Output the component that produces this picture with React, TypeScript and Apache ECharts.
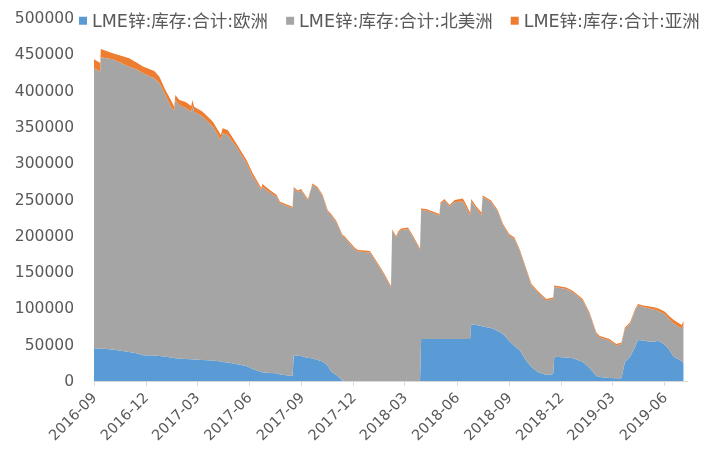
import React, { useEffect, useRef } from 'react';
import * as echarts from 'echarts';

const dates = [
  '2016-09-01', '2016-09-12', '2016-09-13', '2016-10-04', '2016-11-02', '2016-11-17', '2016-11-26', '2016-12-16', '2016-12-25', '2017-01-03',
  '2017-01-14', '2017-01-20', '2017-01-22', '2017-01-29', '2017-02-09', '2017-02-19', '2017-02-21', '2017-02-24', '2017-03-11', '2017-03-29',
  '2017-04-12', '2017-04-15', '2017-04-24', '2017-05-09', '2017-05-27', '2017-06-07', '2017-06-22', '2017-06-24', '2017-07-07', '2017-07-19',
  '2017-07-25', '2017-08-16', '2017-08-18', '2017-08-25', '2017-08-31', '2017-09-12', '2017-09-20', '2017-09-29', '2017-10-08', '2017-10-17',
  '2017-10-23', '2017-11-01', '2017-11-12', '2017-11-15', '2017-12-03', '2017-12-09', '2017-12-30', '2018-01-16', '2018-01-25', '2018-02-05',
  '2018-02-07', '2018-02-14', '2018-02-18', '2018-02-23', '2018-03-07', '2018-03-16', '2018-03-28', '2018-03-30', '2018-04-08', '2018-05-01',
  '2018-05-03', '2018-05-10', '2018-05-19', '2018-05-28', '2018-06-11', '2018-06-14', '2018-06-24', '2018-06-26', '2018-07-05', '2018-07-14',
  '2018-07-16', '2018-07-31', '2018-08-12', '2018-08-21', '2018-09-01', '2018-09-10', '2018-09-19', '2018-10-01', '2018-10-10', '2018-10-21',
  '2018-11-05', '2018-11-17', '2018-11-19', '2018-12-10', '2018-12-22', '2019-01-08', '2019-01-20', '2019-02-01', '2019-02-07', '2019-02-24',
  '2019-03-08', '2019-03-17', '2019-03-23', '2019-04-01', '2019-04-10', '2019-04-15', '2019-04-24', '2019-05-06', '2019-05-15', '2019-05-21',
  '2019-05-30', '2019-06-02', '2019-06-08', '2019-06-17', '2019-07-01', '2019-07-04',
];

const europe = [
  45000, 44800, 44600, 43400, 39900, 37900, 35400, 35000, 34400, 33700,
  32400, 31700, 31300, 31000, 30300, 29900, 29800, 29600, 28900, 28200,
  26900, 26200, 25500, 23400, 20700, 16500, 12400, 12000, 11000, 10600,
  9000, 6900, 34800, 34700, 34400, 31700, 31300, 28900, 26900, 21000,
  12800, 8300, 700, 0, 0, 0, 0, 0, 0, 0,
  0, 0, 0, 0, 0, 0, 0, 57900, 57900, 57900,
  57900, 57900, 57900, 57900, 57900, 57900, 57900, 78100, 77100, 75800,
  75100, 73000, 68900, 64700, 55100, 48200, 42700, 27500, 19300, 12400,
  8300, 9600, 33500, 32400, 31300, 26600, 17900, 6900, 5500, 4100,
  3700, 3700, 26200, 33500, 46800, 56500, 55800, 54100, 54400, 55500,
  51000, 49600, 44100, 33500, 27500, 24400,
];

const northAmerica = [
  386100, 381300, 401200, 399700, 393000, 390500, 388400, 382000, 375600, 362500,
  345500, 340600, 355800, 349200, 345700, 341000, 349700, 341300, 335100, 322000,
  305100, 315000, 313400, 299300, 279200, 264900, 250700, 255600, 248600, 243200,
  235800, 231000, 230300, 225600, 228000, 216900, 238700, 236200, 227300, 211800,
  215200, 210100, 198300, 197700, 181800, 178400, 177000, 156300, 144600, 128800,
  206600, 197700, 204500, 208000, 209400, 197700, 180400, 177700, 177000, 170100,
  185900, 190800, 182500, 188700, 189400, 185900, 170100, 169800, 160500, 152200,
  178400, 173600, 163900, 149400, 145300, 147400, 137100, 124700, 112300, 109500,
  102600, 103300, 96000, 94400, 90600, 84300, 74400, 57900, 54400, 51700,
  45200, 47200, 45500, 45000, 50300, 47500, 46100, 45700, 43700, 40900,
  42000, 42000, 42000, 45700, 44800, 52800,
];

const asia = [
  12000, 12000, 11400, 8300, 11600, 9200, 9400, 10100, 9100, 6900,
  9200, 5500, 6900, 6900, 8300, 7900, 7600, 6900, 6900, 6900,
  6900, 6900, 6900, 4700, 4500, 4700, 2800, 3700, 3400, 2300,
  2200, 2200, 2100, 2100, 2100, 2100, 2100, 2100, 2100, 2100,
  2100, 2100, 2100, 2100, 2100, 2100, 2100, 2100, 2100, 2100,
  2100, 2100, 2100, 2100, 2100, 2100, 2100, 2100, 2100, 2100,
  2100, 2100, 2100, 2800, 4100, 4100, 4100, 2800, 2800, 4100,
  2100, 2100, 2100, 2100, 2100, 2100, 2100, 2100, 2100, 2100,
  2100, 2100, 2100, 2100, 2100, 2100, 2100, 2100, 2100, 2100,
  2100, 2100, 2100, 2100, 2100, 2100, 2100, 2800, 3200, 3400,
  3400, 3400, 4100, 4800, 4800, 5500,
];

const seriesNames = ['LME锌:库存:合计:欧洲', 'LME锌:库存:合计:北美洲', 'LME锌:库存:合计:亚洲'];
const seriesColors = ['#5B9BD5', '#A5A5A5', '#ED7D31'];
const tickLabels = [
  '2016-09', '2016-12', '2017-03', '2017-06', '2017-09', '2017-12',
  '2018-03', '2018-06', '2018-09', '2018-12', '2019-03', '2019-06',
];
const axisStart = '2016-09-01';
const axisEnd = '2019-07-12';
const yMin = 0;
const yMax = 500000;
const yStep = 50000;

// Parse 'yyyy-MM-dd' to a UTC timestamp
const toTs = (s: string) => {
  const [y, m, d] = s.split('-').map(Number);
  return Date.UTC(y, m - 1, d);
};

export default function App() {
  const ref = useRef<HTMLDivElement>(null);

  useEffect(() => {
    if (!ref.current) return;
    const chart = echarts.init(ref.current, null, { renderer: 'svg' });
    const font = "'DejaVu Sans', 'Noto Sans CJK SC', sans-serif";
    const valueSets = [europe, northAmerica, asia];
    const tickValues = tickLabels.map((t) => toTs(t + '-01'));
    const xMin = toTs(axisStart);
    const xMax = toTs(axisEnd);

    chart.setOption({
      animation: false,
      grid: { left: 94, right: 14, top: 18, bottom: 70, containLabel: false, outerBoundsMode: 'none' },
      legend: {
        data: seriesNames,
        left: 79,
        top: 12,
        width: 660,
        padding: 0,
        icon: 'rect',
        itemWidth: 8,
        itemHeight: 8,
        itemGap: 18,
        selectedMode: false,
        textStyle: { fontSize: 17.5, color: '#595959', fontFamily: font },
      },
      xAxis: [
        {
          type: 'time',
          min: xMin,
          max: xMax,
          axisLine: { show: true, onZero: false, lineStyle: { color: '#D9D9D9', width: 1 } },
          axisTick: { show: false },
          axisLabel: { show: false },
          splitLine: { show: false },
        },
        {
          type: 'value',
          min: xMin,
          max: xMax,
          position: 'bottom',
          axisLine: { show: false, onZero: false },
          axisTick: { show: true, customValues: tickValues, length: 5, lineStyle: { color: '#D9D9D9' } },
          splitLine: { show: false },
          axisLabel: {
            customValues: tickValues,
            rotate: 45,
            margin: 14,
            color: '#595959',
            fontSize: 14.5,
            fontFamily: font,
            formatter: (v: number) => {
              const d = new Date(v);
              return d.getUTCFullYear() + '-' + String(d.getUTCMonth() + 1).padStart(2, '0');
            },
          },
        },
      ],
      yAxis: {
        type: 'value',
        min: yMin,
        max: yMax,
        interval: yStep,
        axisLine: { show: false },
        axisTick: { show: false },
        splitLine: { show: false },
        axisLabel: {
          color: '#595959',
          fontSize: 15.5,
          fontFamily: font,
          margin: 20,
          formatter: (v: number) => String(v),
        },
      },
      series: seriesNames.map((name, k) => ({
        name,
        type: 'line',
        stack: 'total',
        xAxisIndex: 0,
        data: dates.map((d, i) => [toTs(d), valueSets[k][i]]),
        symbol: 'none',
        showSymbol: false,
        silent: true,
        lineStyle: { width: 0, color: seriesColors[k] },
        itemStyle: { color: seriesColors[k] },
        areaStyle: { color: seriesColors[k], opacity: 1 },
        emphasis: { disabled: true },
      })),
    });

    return () => chart.dispose();
  }, []);

  return <div ref={ref} style={{ position: 'fixed', left: 0, top: 0, width: 702, height: 451 }} />;
}
